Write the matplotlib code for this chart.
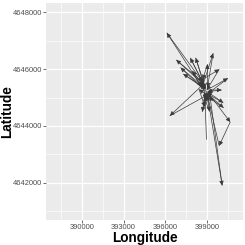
import matplotlib
matplotlib.use("Agg")
import matplotlib.pyplot as plt
from matplotlib.ticker import MultipleLocator

# movement track (UTM metres), in order
lon = [398965, 398845, 396121, 398676, 396796, 398797, 397808, 398917, 398194,
       398748, 399447, 399038, 399038, 398700, 399881, 398989, 400508, 399086,
       397110, 398797, 397302, 398917, 397953, 398556, 396338, 399158, 400676,
       399881, 399038, 400098, 399158, 400050, 399038, 400170, 398989, 400194,
       398845, 398676, 398965, 399182, 398797, 399520, 398435, 398845, 399038]
lat = [4643527, 4645206, 4647272, 4645558, 4646321, 4645441, 4646392, 4645323,
       4646392, 4645499, 4646556, 4645359, 4646169, 4645640, 4645992, 4645265,
       4645675, 4645147, 4646051, 4645359, 4645828, 4645288, 4645934, 4645382,
       4644361, 4645124, 4644137, 4643304, 4645088, 4641907, 4645265, 4645265,
       4645206, 4644818, 4645147, 4644642, 4645088, 4644501, 4645171, 4644513,
       4645030, 4644912, 4645288, 4644678, 4645088]

x_ticks = [390000, 393000, 396000, 399000]
y_ticks = [4642000, 4644000, 4646000, 4648000]

plt.rcParams['font.family'] = ['Liberation Sans', 'DejaVu Sans']

fig = plt.figure(figsize=(2.45, 2.45), dpi=100)
ax = fig.add_axes([0.188, 0.102, 0.804, 0.886])
ax.set_facecolor('#EBEBEB')

for i in range(len(lon) - 1):
    ax.annotate('', xy=(lon[i + 1], lat[i + 1]), xytext=(lon[i], lat[i]),
                arrowprops=dict(arrowstyle='-|>,head_length=0.5,head_width=0.25',
                                color='#3a3a3a', lw=0.5,
                                mutation_scale=5, shrinkA=0, shrinkB=0))

ax.set_xlim(387420, 401600)
ax.set_ylim(4640690, 4648330)
ax.set_xticks(x_ticks)
ax.set_yticks(y_ticks)
ax.set_xticklabels([str(v) for v in x_ticks])
ax.set_yticklabels([str(v) for v in y_ticks])
ax.xaxis.set_minor_locator(MultipleLocator(1500))
ax.yaxis.set_minor_locator(MultipleLocator(1000))
ax.grid(which='major', color='white', lw=0.9)
ax.grid(which='minor', color='white', lw=0.45)
ax.set_axisbelow(True)
for s in ax.spines.values():
    s.set_visible(False)
ax.tick_params(which='major', length=2.2, width=0.5, color='#333333',
               labelsize=5.4, labelcolor='#4D4D4D', pad=0.8)
ax.tick_params(which='minor', length=0)

ax.set_xlabel('Longitude', fontsize=9.8, fontweight='bold', va='center')
ax.set_ylabel('Latitude', fontsize=9.8, fontweight='bold', va='center')
ax.xaxis.set_label_coords(0.5, -0.083)
ax.yaxis.set_label_coords(-0.2, 0.5)

fig.savefig('out.png', dpi=100)
